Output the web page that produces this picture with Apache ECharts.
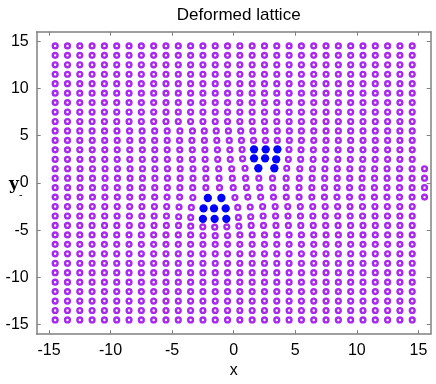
<!DOCTYPE html>
<html><head><meta charset="utf-8">
<script src="https://cdn.jsdelivr.net/npm/echarts@6/dist/echarts.min.js"></script>
<style>html,body{margin:0;padding:0;background:#fff}#c{width:436px;height:384px}</style>
</head><body><div id="c"></div>
<script>
// undeformed lattice sites
const colX = [-14.5,-13.5,-12.5,-11.5,-10.5,-9.5,-8.5,-7.5,-6.5,-5.5,-4.5,-3.5,-2.5,-1.5,-0.5,0.5,1.5,2.5,3.5,4.5,5.5,6.5,7.5,8.5,9.5,10.5,11.5,12.5,13.5,14.5];
const rowY = [-14.5,-13.5,-12.5,-11.5,-10.5,-9.5,-8.5,-7.5,-6.5,-5.5,-4.5,-3.5,-2.5,-1.5,-0.5,0.5,1.5,2.5,3.5,4.5,5.5,6.5,7.5,8.5,9.5,10.5,11.5,12.5,13.5,14.5];
// x displacement of each site (one value per column) for the deformed rows
const dx55  = [0,0,0,0,.01,.02,.04,.06,.08,.1,.13,.15,.11,.08,.07,.07,.05,.05,.04,.02,0,0,0,0,0,0,0,0,0,0];
const dx45  = [0,0,0,.01,.02,.04,.06,.07,.08,.1,.1,.11,.12,.13,.14,.13,.11,.08,.04,.02,0,0,0,0,0,0,0,0,0,0];
const dx35  = [0,0,0,.01,.03,.04,.06,.08,.09,.1,.12,.14,.16,.18,.19,.18,.15,.10,.05,-.01,-.03,-.03,-.03,-.02,-.01,0,0,0,0,0];
const dx25  = [0,0,.01,.02,.03,.04,.06,.08,.09,.11,.13,.15,.18,.2,.22,.22,.15,.05,-.05,-.06,-.06,-.05,-.05,-.04,-.03,-.02,-.01,0,0,0];
const dx15  = [0,.01,.02,.03,.05,.06,.08,.09,.1,.12,.15,.19,.23,.28,.34,.42,.5,.8,.81,.87,.9,.91,.92,.93,.94,.95,.96,.97,.99,1];
const dx05  = [0,.01,.02,.03,.05,.06,.08,.09,.1,.12,.15,.19,.24,.31,.39,.46,.54,.65,.76,.83,.87,.89,.91,.92,.93,.94,.96,.97,.99,1];
const dxm05 = [0,.01,.02,.03,.04,.05,.07,.08,.09,.11,.13,.17,.24,.35,.46,.54,.61,.68,.76,.81,.85,.88,.9,.91,.92,.93,.95,.97,.99,1];
const dxm15 = [0,.01,.02,.03,.04,.05,.06,.07,.08,.09,.11,.18,.4,.5,.6,.65,.69,.73,.77,.81,.85,.87,.89,.91,.92,.93,.95,.97,.99,1];
const dxm25 = [0,0,.01,.02,.03,.04,.05,.05,.06,.06,.06,.06,.05,-.1,-.15,-.17,-.16,-.15,-.13,-.11,-.09,-.08,-.07,-.06,-.05,-.04,-.03,-.02,-.01,0];
const dxm35 = [0,0,0,.01,.02,.03,.03,.04,.04,.04,.03,.01,0,-.05,-.1,-.12,-.12,-.11,-.1,-.09,-.08,-.07,-.06,-.05,-.04,-.03,-.02,-.01,0,0];
const dxm45 = [0,0,0,0,.01,.01,.02,.02,.03,.03,.02,.01,-.01,-.04,-.06,-.08,-.08,-.08,-.07,-.06,-.05,-.04,-.03,-.02,-.01,0,0,0,0,0];
// y displacement of each site for the deformed rows
const dy35  = [0,0,0,0,0,0,0,0,0,0,0,0,0,0,0,.03,.05,.05,.05,.03,0,0,0,0,0,0,0,0,0,0];
const dy25  = [0,0,0,0,0,0,0,0,0,0,0,0,0,0,0,.05,.1,.1,0,0,0,0,0,0,0,0,0,0,0,0];
const dy15  = [0,0,0,0,0,0,0,0,0,0,0,0,0,0,0,.05,.05,.05,.05,0,0,0,0,0,0,0,0,0,0,0];
const dym15 = [0,0,0,0,0,0,0,0,0,0,0,-.05,-.1,-.1,-.05,0,0,0,0,0,0,0,0,0,0,0,0,0,0,0];
const dym25 = [0,0,0,0,0,0,0,0,0,0,-.05,-.1,-.2,-.2,-.2,-.1,-.05,0,0,0,0,0,0,0,0,0,0,0,0,0];
const dym35 = [0,0,0,0,0,0,0,0,0,0,-.08,-.15,-.3,-.3,-.3,-.15,-.08,0,0,0,0,0,0,0,0,0,0,0,0,0];
const dym45 = [0,0,0,0,0,0,0,0,0,0,0,-.08,-.15,-.18,-.15,-.08,0,0,0,0,0,0,0,0,0,0,0,0,0,0];
const dym55 = [0,0,0,0,0,0,0,0,0,0,0,0,-.07,-.08,-.07,0,0,0,0,0,0,0,0,0,0,0,0,0,0,0];
// marked (blue) sites, given by their undeformed row / column
const blueRow = [3.5,3.5,3.5,2.5,2.5,2.5,1.5,1.5,-1.5,-1.5,-2.5,-2.5,-2.5,-3.5,-3.5,-3.5];
const blueCol = [1.5,2.5,3.5,1.5,2.5,3.5,1.5,2.5,-2.5,-1.5,-2.5,-1.5,-0.5,-2.5,-1.5,-0.5];
const ticks = [-15,-10,-5,0,5,10,15];

const dxTab = {'5.5': dx55, '4.5': dx45, '3.5': dx35, '2.5': dx25, '1.5': dx15, '0.5': dx05,
               '-0.5': dxm05, '-1.5': dxm15, '-2.5': dxm25, '-3.5': dxm35, '-4.5': dxm45};
const dyTab = {'3.5': dy35, '2.5': dy25, '1.5': dy15, '-1.5': dym15, '-2.5': dym25,
               '-3.5': dym35, '-4.5': dym45, '-5.5': dym55};
const blueSet = new Set(blueRow.map((r, i) => r + ',' + blueCol[i]));
const latt = [], blue = [];
rowY.forEach(y => {
  const ddx = dxTab[String(y)], ddy = dyTab[String(y)];
  colX.forEach((x, j) => {
    const p = [x + (ddx ? ddx[j] : 0), y + (ddy ? ddy[j] : 0)];
    (blueSet.has(y + ',' + x) ? blue : latt).push(p);
  });
});

const axisCol = '#808080';
function ax(pos, labels) {
  return {
    type: 'value', position: pos, min: -16, max: 16,
    axisLine: {show: true, onZero: false, lineStyle: {color: axisCol, width: 1.5}},
    axisTick: {show: true, inside: true, length: 4, customValues: ticks, lineStyle: {color: axisCol}},
    axisLabel: {show: labels, customValues: ticks, color: '#000', fontSize: 16, fontFamily: 'Liberation Sans', margin: 8},
    splitLine: {show: false}
  };
}
const chart = echarts.init(document.getElementById('c'), null, {renderer: 'canvas'});
chart.setOption({
  animation: false,
  title: {text: 'Deformed lattice', left: 233.7, top: 2, textAlign: 'center',
    textStyle: {fontSize: 17, fontWeight: 'normal', fontFamily: 'Liberation Sans', color: '#000'}},
  grid: {left: 36.7, right: 5.3, top: 31.7, bottom: 41.3, containLabel: false},
  xAxis: [Object.assign(ax('bottom', true), {name: 'x', nameLocation: 'middle', nameGap: 28,
            nameTextStyle: {fontSize: 16, fontFamily: 'Liberation Sans', color: '#000'}}),
          ax('top', false)],
  yAxis: [ax('left', true), ax('right', false)],
  graphic: [{type: 'text', left: 9, top: 176, style: {text: 'y', font: 'bold 17px "DejaVu Serif"', fill: '#000'}},
            {type: 'text', left: 19, top: 190, style: {text: '-', font: '10px "DejaVu Sans"', fill: '#000'}}],
  series: [
    {type: 'scatter', data: latt, symbol: 'circle', symbolSize: 4.8,
     itemStyle: {color: '#fff', borderColor: '#a828f0', borderWidth: 2.4, opacity: 1}},
    {type: 'scatter', data: blue, symbol: 'circle', symbolSize: 8.3,
     itemStyle: {color: '#0000ff', opacity: 1}}
  ]
});
</script></body></html>
